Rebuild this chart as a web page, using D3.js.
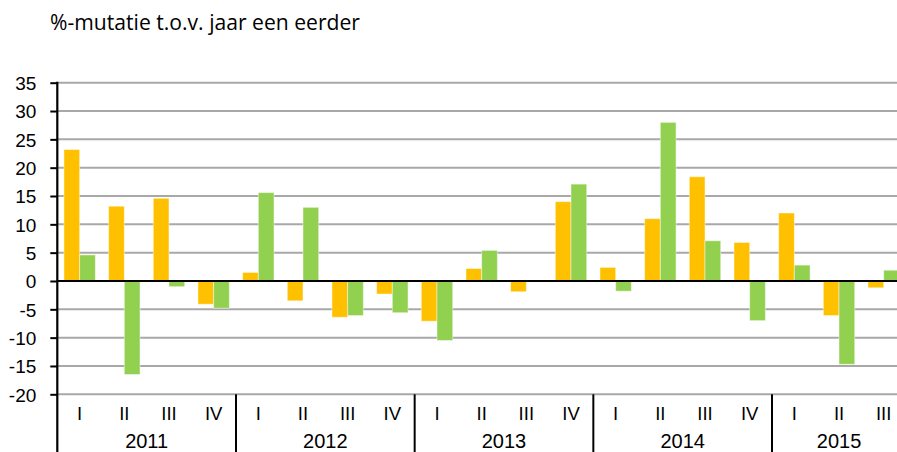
<!DOCTYPE html>
<html>
<head>
<meta charset="utf-8">
<script src="https://cdn.jsdelivr.net/npm/d3@7"></script>
<style>
  html, body { margin: 0; padding: 0; background: #fff; }
  svg { display: block; }
</style>
</head>
<body>
<svg id="chart" width="897" height="452"></svg>
<script>
const titleText = "%-mutatie t.o.v. jaar een eerder";
const years = ["2011", "2012", "2013", "2014", "2015"];
const quartersPerYear = [4, 4, 4, 4, 3];
const quarterNames = ["I", "II", "III", "IV"];
const seriesA = [23.2, 13.2, 14.6, -4.1, 1.5, -3.5, -6.4, -2.3, -7.1, 2.2, -1.9, 14.0, 2.4, 11.0, 18.4, 6.8, 12.0, -6.1, -1.2];
const seriesB = [4.6, -16.5, -1.0, -4.8, 15.6, 13.0, -6.1, -5.6, -10.5, 5.4, 0.0, 17.1, -1.8, 28.0, 7.1, -7.0, 2.8, -14.7, 1.9];
const yTicks = [35, 30, 25, 20, 15, 10, 5, 0, -5, -10, -15, -20];
const seriesNames = ["A", "B"];
const seriesColors = ["#FFC000", "#92D050"];

const categories = [];
years.forEach((yr, yi) => {
  for (let q = 0; q < quartersPerYear[yi]; q++) {
    categories.push({ key: yr + "-" + quarterNames[q], year: yr, q: quarterNames[q] });
  }
});
const rows = categories.map((c, i) => ({ ...c, values: [seriesA[i], seriesB[i]] }));

const svg = d3.select("#chart");
const left = 57.3, step = 44.67;
const x0 = d3.scaleBand().domain(categories.map(c => c.key))
  .range([left, left + step * categories.length]).paddingInner(0).paddingOuter(0);
const x1 = d3.scaleBand().domain(seriesNames).range([0, x0.bandwidth()]).paddingInner(0).paddingOuter(0.4225);
const y = d3.scaleLinear().domain([-20, 35]).range([394.3, 82.7]);

// title
svg.append("text")
  .attr("x", 50).attr("y", 30)
  .attr("font-family", "'Open Sans', 'Noto Sans', sans-serif")
  .attr("font-size", 21)
  .attr("textLength", 310).attr("lengthAdjust", "spacingAndGlyphs")
  .attr("fill", "#000")
  .text(titleText);

// gridlines
svg.append("g").selectAll("line").data(yTicks.filter(t => t !== 0)).join("line")
  .attr("x1", left).attr("x2", 897)
  .attr("y1", d => y(d)).attr("y2", d => y(d))
  .attr("stroke", "#A8A8A8").attr("stroke-width", 2);

// bars
const groups = svg.append("g").selectAll("g").data(rows).join("g")
  .attr("transform", d => `translate(${x0(d.key)},0)`);
groups.selectAll("rect").data(d => d.values.map((v, i) => ({ v, s: seriesNames[i], c: seriesColors[i] })))
  .join("rect")
  .attr("x", d => x1(d.s))
  .attr("width", x1.bandwidth())
  .attr("y", d => y(Math.max(0, d.v)))
  .attr("height", d => Math.abs(y(d.v) - y(0)))
  .attr("fill", d => d.c)
  .attr("stroke", "#ffffff").attr("stroke-opacity", 0.45).attr("stroke-width", 1);

// zero line
svg.append("line")
  .attr("x1", left).attr("x2", 897).attr("y1", y(0)).attr("y2", y(0))
  .attr("stroke", "#000").attr("stroke-width", 2.2);

// y axis
const yAxis = d3.axisLeft(y).tickValues(yTicks).tickSize(7).tickPadding(14).tickFormat(d => String(d));
const yg = svg.append("g").attr("transform", `translate(${left},0)`).call(yAxis);
yg.select(".domain").remove();
yg.selectAll(".tick line").attr("stroke", "#000").attr("stroke-width", 2);
yg.selectAll(".tick text")
  .attr("font-family", "'Liberation Sans', Arial, sans-serif")
  .attr("font-size", 19).attr("fill", "#000").attr("dy", "0.36em");
svg.append("line")
  .attr("x1", left).attr("x2", left).attr("y1", y(35) - 1).attr("y2", 452)
  .attr("stroke", "#000").attr("stroke-width", 2.2);

// quarter labels
svg.append("g").selectAll("text").data(rows).join("text")
  .attr("x", d => x0(d.key) + x0.bandwidth() / 2)
  .attr("y", 420)
  .attr("text-anchor", "middle")
  .attr("font-family", "'Liberation Sans', Arial, sans-serif")
  .attr("font-size", 18.5).attr("fill", "#000")
  .text(d => d.q);

// year separators and labels
let idx = 0;
const yearSpans = years.map((yr, yi) => {
  const start = x0(categories[idx].key);
  idx += quartersPerYear[yi];
  const end = x0(categories[idx - 1].key) + x0.bandwidth();
  return { yr, start, end };
});
svg.append("g").selectAll("line").data(yearSpans.slice(0, -1)).join("line")
  .attr("x1", d => d.end).attr("x2", d => d.end)
  .attr("y1", y(-20)).attr("y2", 452)
  .attr("stroke", "#000").attr("stroke-width", 2);
svg.append("g").selectAll("text").data(yearSpans).join("text")
  .attr("x", d => (d.start + d.end) / 2)
  .attr("y", 448)
  .attr("text-anchor", "middle")
  .attr("font-family", "'Liberation Sans', Arial, sans-serif")
  .attr("font-size", 20).attr("fill", "#000")
  .text(d => d.yr);
</script>
</body>
</html>
